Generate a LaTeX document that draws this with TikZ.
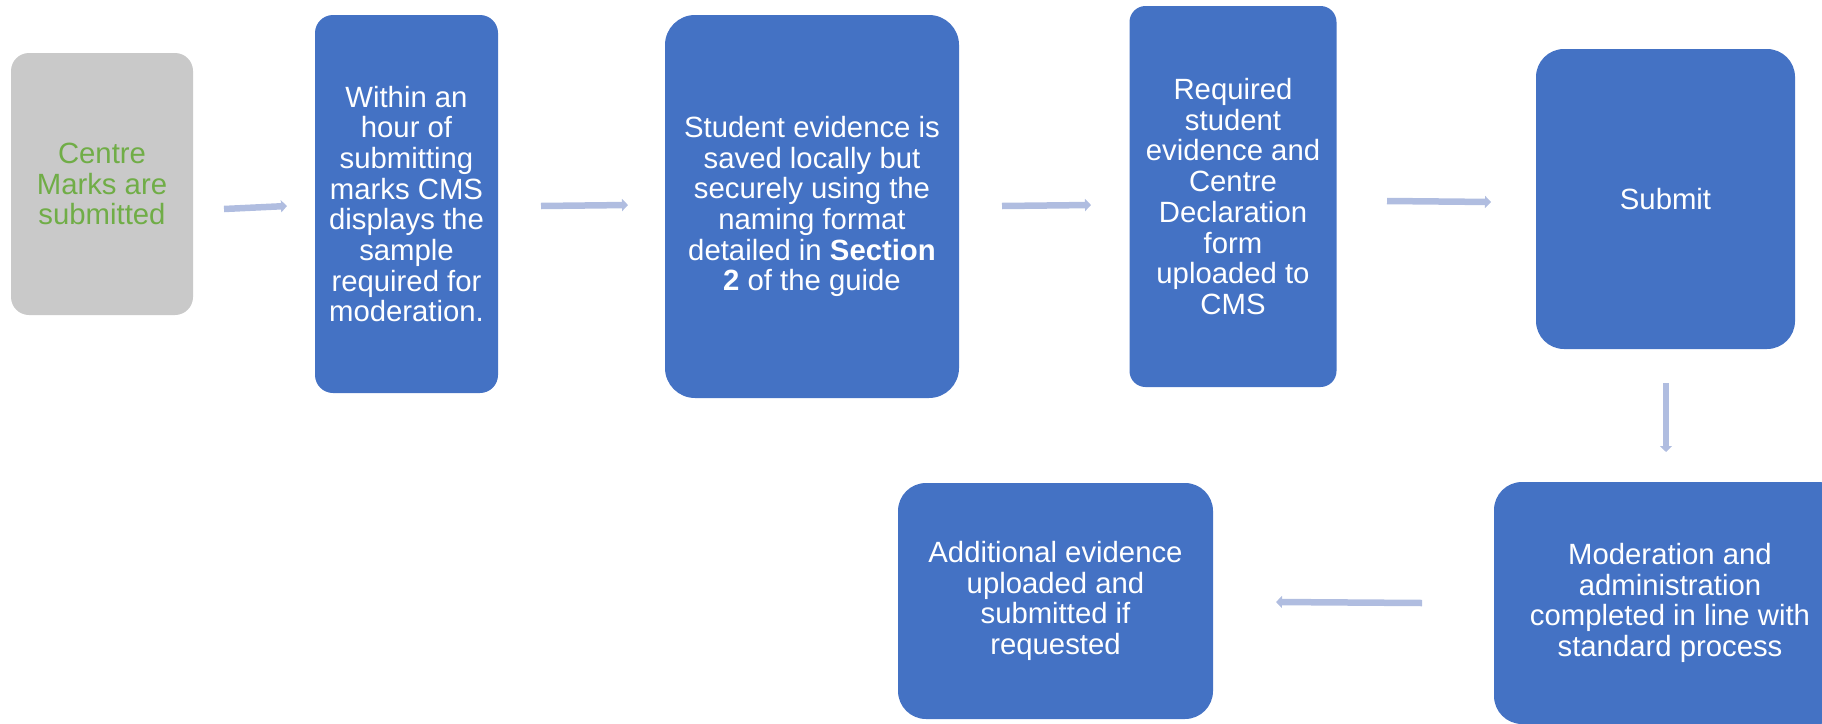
\documentclass[tikz,border=0pt]{standalone}
\usepackage{fontspec}
\setmainfont{Liberation Sans}
\usetikzlibrary{arrows.meta}
\definecolor{boxblue}{HTML}{4472C4}
\definecolor{boxgray}{HTML}{C9C9C9}
\definecolor{txtgreen}{HTML}{70AD47}
\definecolor{arrowblue}{HTML}{B0BDE0}
\begin{document}
\begin{tikzpicture}[x=1pt,y=-1pt,
  box/.style={fill=boxblue, draw=none, inner sep=0pt, align=center, text=white,
    font=\fontsize{29.3}{30.7}\selectfont},
  flow/.style={draw=arrowblue, line width=6.5pt, -{Triangle[width=12pt,length=6pt]}}]
\useasboundingbox (0,0) rectangle (1822,723);
\node[box, fill=boxgray, text=txtgreen, rounded corners=18pt, minimum width=182pt, minimum height=262pt] (b1) at (102,184) {Centre\\Marks are\\submitted};
\node[box, rounded corners=18pt, minimum width=183pt, minimum height=378pt] (b2) at (406.5,204) {Within an\\hour of\\submitting\\marks CMS\\displays the\\sample\\required for\\moderation.};
\node[box, rounded corners=30pt, minimum width=294pt, minimum height=383pt] (b3) at (812,206.5) {Student evidence is\\saved locally but\\securely using the\\naming format\\detailed in \textbf{Section}\\\textbf{2} of the guide};
\node[box, rounded corners=16pt, minimum width=207pt, minimum height=381pt] (b4) at (1233,196.5) {Required\\student\\evidence and\\Centre\\Declaration\\form\\uploaded to\\CMS};
\node[box, rounded corners=28pt, minimum width=259pt, minimum height=300pt] (b5) at (1665.5,199) {Submit};
\node[box, rounded corners=28pt, minimum width=352pt, minimum height=242pt] (b6) at (1670,603) {Moderation and\\administration\\completed in line with\\standard process};
\node[box, rounded corners=28pt, minimum width=315pt, minimum height=236pt] (b7) at (1055.5,601) {Additional evidence\\uploaded and\\submitted if\\requested};
\coordinate (a1s) at (224,209); \coordinate (a1e) at (287,206);
\coordinate (a2s) at (541,206); \coordinate (a2e) at (628,205);
\coordinate (a3s) at (1002,206); \coordinate (a3e) at (1091,205);
\coordinate (a4s) at (1387,201); \coordinate (a4e) at (1491,202);
\coordinate (a5s) at (1666,383); \coordinate (a5e) at (1666,452);
\coordinate (a6s) at (1422,603); \coordinate (a6e) at (1276,602);
\draw[flow] (a1s) -- (a1e);
\draw[flow] (a2s) -- (a2e);
\draw[flow] (a3s) -- (a3e);
\draw[flow] (a4s) -- (a4e);
\draw[flow] (a5s) -- (a5e);
\draw[flow] (a6s) -- (a6e);
\end{tikzpicture}
\end{document}
